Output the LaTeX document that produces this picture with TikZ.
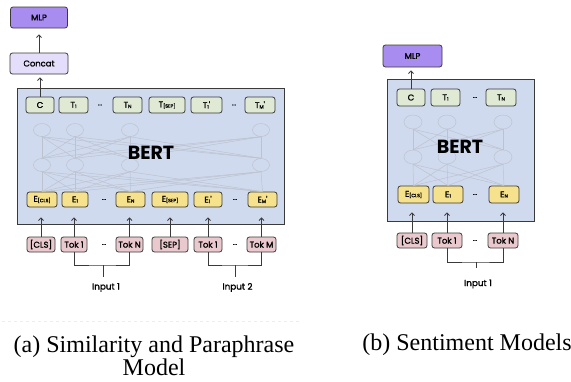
\documentclass[tikz,border=0pt]{standalone}
\usepackage{fontspec}
\setmainfont{Liberation Serif}
\newfontfamily\pop{Poppins}
\newfontfamily\popm[FakeBold=1.6]{Poppins}
\usetikzlibrary{arrows.meta,shapes.geometric}
\definecolor{bertfill}{HTML}{D0DAEF}
\definecolor{tgreen}{HTML}{DFE9D4}
\definecolor{eyellow}{HTML}{F6E28C}
\definecolor{tokpink}{HTML}{E9C9CD}
\definecolor{mlpfill}{HTML}{A88CF0}
\definecolor{concatfill}{HTML}{E4DEFA}
\definecolor{netgray}{HTML}{BCC3CF}
\definecolor{edge}{HTML}{3A3A3A}
\newcommand\sbs[1]{\raisebox{-0.4pt}{\fontsize{4.8}{5}\selectfont #1}}
\begin{document}
\begin{tikzpicture}[x=1pt,y=-1pt,
  box/.style={draw=edge, line width=0.8pt, rounded corners=2.5pt, inner sep=0pt, font=\popm\fontsize{8.4}{9}\selectfont},
  tbox/.style={box, fill=tgreen},
  ebox/.style={box, fill=eyellow},
  kbox/.style={box, fill=tokpink},
  bertbox/.style={draw=edge, line width=1pt, fill=bertfill},
  arr/.style={-{Straight Barb[length=2.6pt,width=5pt]}, line width=0.75pt, draw=edge},
  brk/.style={line width=0.75pt, draw=edge},
  net/.style={draw=netgray, line width=0.5pt},
  neuron/.style={ellipse, draw=netgray, line width=0.5pt, minimum width=17pt, minimum height=13pt, inner sep=0pt},
  dotsn/.style={font=\popm\fontsize{6.5}{6.5}\selectfont, inner sep=0pt},
  bertlbl/.style={font=\pop\bfseries\fontsize{19}{19}\selectfont, inner sep=0pt},
  inlbl/.style={font=\popm\fontsize{8.8}{9}\selectfont, inner sep=0pt},
  captxt/.style={font=\fontsize{24}{21}\selectfont, align=center, inner sep=0pt},
]
\useasboundingbox (0,0) rectangle (571,381);
\fill[white] (0,0) rectangle (571,381);

% ================= LEFT (a) =================
\node[box, fill=mlpfill, minimum width=57pt, minimum height=21pt] (mlpA) at (39,17.5) {MLP};
\node[box, fill=concatfill, minimum width=58pt, minimum height=21pt] (catA) at (39,63.5) {Concat};
\draw[bertbox] (17,88) rectangle (284,224);

% network
\foreach \n/\x in {1/42,2/75,3/130,4/261}{
  \node[neuron] (ta\n) at (\x,130) {};
  \node[neuron] (ba\n) at (\x,165) {};
}
% top row
\node[tbox, minimum width=28pt, minimum height=16pt] (CA) at (40,105) {C};
\node[tbox, minimum width=29pt, minimum height=16pt] (T1A) at (73.5,105) {T\sbs{1}};
\node[dotsn] (tdA1) at (100,105) {...};
\node[tbox, minimum width=29pt, minimum height=16pt] (TNA) at (127.5,105) {T\sbs{N}};
\node[tbox, minimum width=36pt, minimum height=16pt] (TSA) at (167,105) {T\sbs{[SEP]}};
\node[tbox, minimum width=31pt, minimum height=16pt] (T1pA) at (206.5,105) {T\sbs{1}'};
\node[dotsn] (tdA2) at (234,105) {...};
\node[tbox, minimum width=30pt, minimum height=16pt] (TMpA) at (260,105) {T\sbs{M}'};
% E row
\node[ebox, minimum width=30pt, minimum height=15pt] (ECA) at (42,199.5) {E\sbs{[CLS]}};
\node[ebox, minimum width=26pt, minimum height=15pt] (E1A) at (75,199.5) {E\sbs{1}};
\node[dotsn] (edA1) at (104,199.5) {...};
\node[ebox, minimum width=29pt, minimum height=15pt] (ENA) at (130.5,199.5) {E\sbs{N}};
\node[ebox, minimum width=36pt, minimum height=15pt] (ESA) at (170,199.5) {E\sbs{[SEP]}};
\node[ebox, minimum width=28pt, minimum height=15pt] (E1pA) at (208,199.5) {E\sbs{1}'};
\node[dotsn] (edA2) at (235,199.5) {...};
\node[ebox, minimum width=29pt, minimum height=15pt] (EMpA) at (262.5,199.5) {E\sbs{M}'};

\foreach \i in {1,...,4}{
  \foreach \j in {1,...,4}{
    \draw[net] (ta\i.south) -- (ba\j.north);
  }
  \foreach \e in {ECA,E1A,ENA,EMpA}{
    \draw[net] (ba\i.south) -- (\e.north);
  }
}
\node[bertlbl] (bertA) at (151,153) {BERT};

% token row
\node[kbox, minimum width=28pt, minimum height=15pt] (KCA) at (41,244.5) {[CLS]};
\node[kbox, minimum width=26pt, minimum height=15pt] (K1A) at (74,244.5) {Tok 1};
\node[dotsn] (kdA1) at (104,244.5) {...};
\node[kbox, minimum width=27pt, minimum height=15pt] (KNA) at (129.5,244.5) {Tok N};
\node[kbox, minimum width=36pt, minimum height=15pt] (KSA) at (170,244.5) {[SEP]};
\node[kbox, minimum width=28pt, minimum height=15pt] (K1pA) at (208,244.5) {Tok 1};
\node[dotsn] (kdA2) at (235,244.5) {...};
\node[kbox, minimum width=29pt, minimum height=15pt] (KMA) at (261.5,244.5) {Tok M};

\foreach \k/\e in {KCA/ECA,K1A/E1A,KNA/ENA,KSA/ESA,K1pA/E1pA,KMA/EMpA}{
  \draw[arr, shorten >=10pt] (\k.north) -- (\k.north |- \e.south);
}
\draw[arr, shorten >=3pt] (CA.north) -- (CA.north |- catA.south);
\draw[arr, shorten >=6pt] (catA.north) -- (mlpA.south);

\coordinate (brA1) at (103,265);
\coordinate (brA1e) at (103,277);
\node[inlbl] (in1A) at (106,287.5) {Input 1};
\draw[brk] (K1A.south) |- (brA1) -| (KNA.south);
\draw[brk] (brA1) -- (brA1e);
\coordinate (brA2) at (235,265);
\coordinate (brA2e) at (235,277);
\node[inlbl] (in2A) at (237.5,287.5) {Input 2};
\draw[brk] (K1pA.south) |- (brA2) -| (KMA.south);
\draw[brk] (brA2) -- (brA2e);

% ================= RIGHT (b) =================
\node[box, fill=mlpfill, minimum width=59pt, minimum height=22pt] (mlpB) at (412.5,56) {MLP};
\draw[bertbox] (387,79) rectangle (534,221);
\foreach \n/\x in {1/413,2/447,3/503}{
  \node[neuron, minimum width=18pt, minimum height=14pt] (tb\n) at (\x,122) {};
  \node[neuron, minimum width=18pt, minimum height=14pt] (bb\n) at (\x,157) {};
}
\node[tbox, minimum width=28pt, minimum height=17pt] (CB) at (411,97.5) {C};
\node[tbox, minimum width=29pt, minimum height=17pt] (T1B) at (445.5,97.5) {T\sbs{1}};
\node[dotsn] (tdB) at (475,97.5) {...};
\node[tbox, minimum width=30pt, minimum height=17pt] (TNB) at (501,97.5) {T\sbs{N}};
\node[ebox, minimum width=31pt, minimum height=17pt] (ECB) at (413.5,194.5) {E\sbs{[CLS]}};
\node[ebox, minimum width=30pt, minimum height=17pt] (E1B) at (448,194.5) {E\sbs{1}};
\node[dotsn] (edB) at (475,194.5) {...};
\node[ebox, minimum width=30pt, minimum height=17pt] (ENB) at (504,194.5) {E\sbs{N}};
\foreach \i in {1,...,3}{
  \foreach \j in {1,...,3}{
    \draw[net] (tb\i.south) -- (bb\j.north);
  }
  \foreach \e in {ECB,E1B,ENB}{
    \draw[net] (bb\i.south) -- (\e.north);
  }
}
\node[bertlbl] (bertB) at (460,147) {BERT};
\node[kbox, minimum width=30pt, minimum height=15pt] (KCB) at (412,240.5) {[CLS]};
\node[kbox, minimum width=30pt, minimum height=15pt] (K1B) at (447,240.5) {Tok 1};
\node[dotsn] (kdB) at (475,240.5) {...};
\node[kbox, minimum width=30pt, minimum height=15pt] (KNB) at (503,240.5) {Tok N};
\foreach \k/\e in {KCB/ECB,K1B/E1B,KNB/ENB}{
  \draw[arr, shorten >=9pt] (\k.north) -- (\k.north |- \e.south);
}
\draw[arr, shorten >=3pt] (CB.north) -- (CB.north |- mlpB.south);
\coordinate (brB) at (476,262);
\coordinate (brBe) at (476,268);
\node[inlbl] (in1B) at (478,284) {Input 1};
\draw[brk] (K1B.south) |- (brB) -| (KNB.south);
\draw[brk] (brB) -- (brBe);

% ================= captions =================
\draw[dashed, draw=black!7, line width=0.5pt] (2,321) -- (300,321);
\node[captxt] (capA) at (154,355.5) {(a) Similarity and Paraphrase\\Model};
\node[captxt] (capB) at (467,345) {(b) Sentiment Models};
\end{tikzpicture}
\end{document}
